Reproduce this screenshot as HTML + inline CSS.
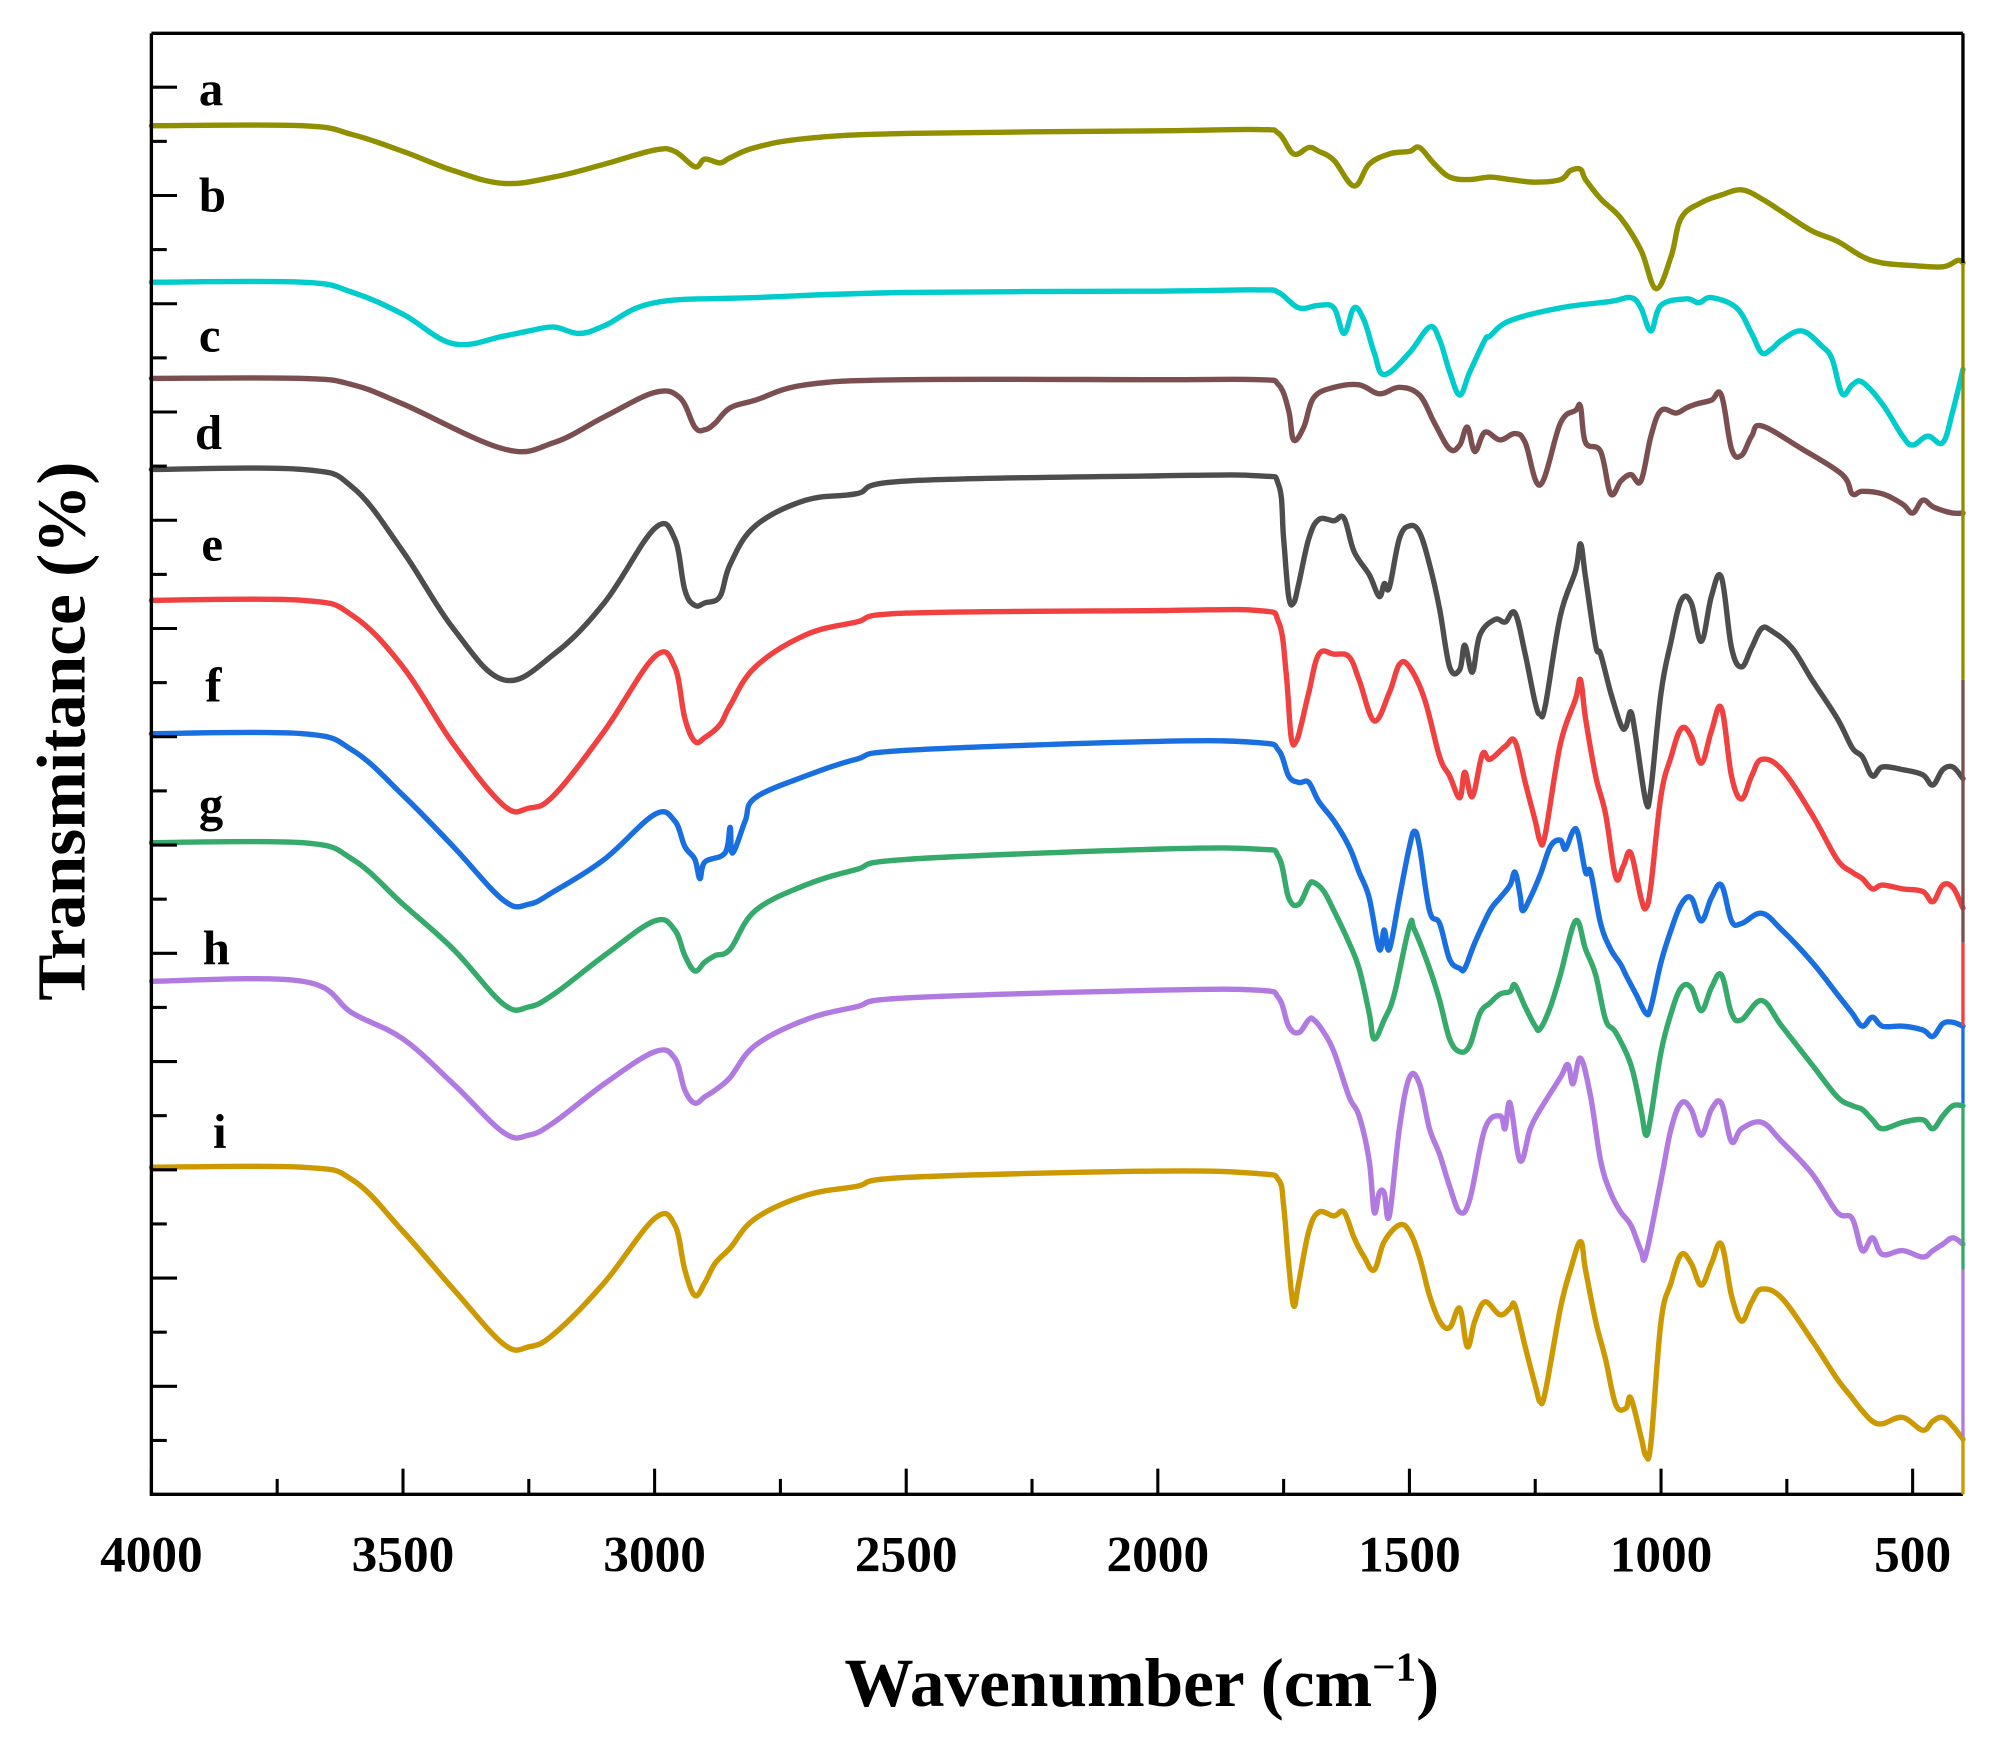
<!DOCTYPE html>
<html><head><meta charset="utf-8"><style>
html,body{margin:0;padding:0;background:#fff}
svg{display:block}
text{font-family:"Liberation Serif",serif;font-weight:bold;fill:#000}
</style></head><body>
<svg id="chart" width="2013" height="1747" viewBox="0 0 1569 1362" preserveAspectRatio="none" xmlns="http://www.w3.org/2000/svg">
<g id="plot"></g>
<text x="890" y="1330" text-anchor="middle" font-size="54">Wavenumber (cm<tspan dy="-20" font-size="32">−1</tspan><tspan dy="20">)</tspan></text>
<text transform="translate(66,570) rotate(-90)" text-anchor="middle" font-size="54">Transmitance (%)</text>
</svg>
<script>
const xTicks = [4000,3500,3000,2500,2000,1500,1000,500];
const seriesLabels = ["a","b","c","d","e","f","g","h","i"];
const seriesColors = ["#8f8f00","#00cccc","#7b4f4f","#4d4d4d","#f04040","#1a6fe0","#35aa6a","#b07ae0","#cc9900"];
const labelPos = [[155,70],[155,153],[155,262],[152,338],[157,425],[160,535],[155,628],[158,740],[166,883]];
const wnA = [4000,3700,3600,3500,3400,3300,3200,3100,3000,2960,2920,2900,2870,2850,2800,2700,2500,2000,1800,1760,1730,1700,1680,1650,1610,1580,1540,1500,1480,1450,1420,1380,1340,1300,1250,1200,1180,1160,1150,1120,1080,1040,1010,980,960,920,880,840,800,760,700,650,600,560,500,440,410,400];
const tA = [98,98,105,118,133,143,138,128,117,118,130,124,127,123,115,108,104,102,101,104,120,115,118,125,145,128,120,118,115,128,138,140,138,140,142,140,133,132,140,155,170,195,225,200,170,158,152,148,155,165,180,188,200,205,207,208,203,205];
const wnB = [4000,3700,3600,3500,3400,3300,3250,3200,3150,3100,3000,2800,2500,2000,1800,1760,1720,1680,1650,1630,1610,1590,1570,1550,1500,1460,1440,1420,1400,1380,1350,1340,1300,1200,1100,1060,1040,1020,1000,950,925,900,850,820,800,780,760,720,680,660,640,620,600,560,520,500,470,440,420,400];
const tB = [220,220,228,245,268,262,258,255,260,254,236,232,228,227,226,228,240,238,240,260,240,250,275,292,275,255,265,290,308,290,265,262,250,240,235,232,240,258,238,233,236,232,240,260,275,272,265,258,270,280,307,300,298,315,340,347,340,345,320,288];
const wnC = [4000,3700,3600,3500,3300,3200,3100,3000,2950,2920,2900,2880,2850,2800,2700,2500,2000,1800,1760,1740,1730,1710,1690,1650,1600,1560,1520,1480,1450,1420,1400,1385,1370,1350,1320,1290,1270,1240,1200,1170,1160,1150,1120,1100,1080,1060,1040,1020,1000,970,950,930,900,880,860,840,820,800,720,640,620,600,560,520,500,480,460,440,420,400];
const tC = [295,295,300,315,350,345,325,306,310,333,335,330,318,312,300,296,296,296,300,320,343,333,310,302,300,307,302,308,330,350,347,333,352,337,343,338,345,378,330,320,317,345,352,385,375,370,375,340,320,322,318,315,312,308,350,355,340,332,350,370,385,383,385,393,400,390,395,398,400,400];
const wnD = [4000,3700,3600,3500,3400,3300,3200,3100,3000,2960,2940,2920,2900,2870,2850,2800,2700,2600,2500,2000,1800,1760,1750,1740,1730,1720,1700,1680,1650,1630,1610,1580,1560,1550,1540,1520,1500,1480,1460,1440,1420,1400,1390,1375,1360,1330,1310,1290,1270,1250,1240,1230,1200,1170,1160,1150,1130,1120,1100,1080,1070,1060,1050,1030,1020,1000,980,960,940,920,900,880,860,840,820,800,780,740,700,650,620,600,580,560,520,480,460,440,420,400];
const tD = [366,366,380,430,490,530,510,470,412,420,460,472,470,465,440,410,390,385,375,371,371,378,420,465,470,455,420,405,406,404,430,448,465,455,458,420,410,415,440,475,520,522,503,524,495,483,485,478,510,548,557,550,480,445,424,450,503,510,540,565,567,555,575,625,615,540,500,468,470,500,465,450,505,520,505,490,492,505,530,560,583,590,605,598,600,604,612,600,598,607];
const wnE = [4000,3700,3600,3500,3400,3300,3250,3200,3100,3000,2960,2940,2920,2900,2870,2850,2800,2700,2600,2500,2000,1800,1760,1745,1735,1725,1715,1700,1680,1650,1620,1600,1570,1540,1520,1500,1470,1440,1420,1400,1390,1375,1355,1340,1310,1290,1270,1250,1240,1230,1200,1170,1160,1150,1130,1110,1090,1075,1060,1040,1030,1020,1000,980,960,940,920,900,880,860,840,820,800,760,700,650,620,600,580,560,520,480,460,440,420,400];
const tE = [468,468,480,520,580,628,630,620,570,512,520,560,578,575,565,550,520,495,485,478,476,476,485,525,575,578,565,540,510,510,512,530,562,540,518,520,545,590,605,622,602,621,588,592,582,578,610,640,656,650,580,545,530,560,605,635,684,675,665,700,708,690,620,590,568,574,595,570,552,605,623,605,592,600,635,670,680,685,693,690,693,695,703,690,692,708];
const wnF = [4000,3700,3600,3500,3400,3300,3250,3200,3100,3000,2960,2940,2920,2910,2900,2860,2850,2845,2820,2800,2700,2600,2500,2000,1800,1760,1740,1720,1700,1680,1650,1620,1600,1580,1560,1550,1540,1520,1500,1490,1480,1460,1440,1420,1400,1390,1370,1340,1320,1300,1290,1280,1275,1260,1240,1220,1200,1190,1175,1165,1150,1140,1120,1100,1080,1070,1050,1030,1020,1000,980,960,940,920,900,880,860,840,800,760,700,650,620,600,580,560,520,480,460,440,420,400];
const tF = [572,572,585,620,660,702,705,695,670,635,640,660,670,685,672,665,645,665,640,622,605,592,585,578,579,585,605,610,610,625,640,660,680,700,740,725,740,700,660,648,660,710,720,748,755,755,735,710,700,690,680,698,710,700,682,660,655,662,648,650,680,680,720,740,752,760,775,790,785,750,725,705,700,718,700,690,718,720,712,725,750,775,790,800,793,800,800,803,808,798,797,800];
const wnG = [4000,3700,3600,3500,3400,3300,3250,3200,3100,3000,2960,2940,2920,2900,2880,2850,2800,2700,2600,2500,2000,1800,1760,1740,1720,1700,1690,1670,1650,1620,1600,1580,1570,1550,1530,1500,1490,1460,1440,1420,1400,1380,1360,1340,1320,1300,1290,1270,1250,1240,1220,1200,1170,1150,1130,1110,1090,1060,1040,1030,1020,1000,980,960,940,920,900,880,860,840,800,760,700,650,620,600,580,560,520,480,460,440,420,400];
const tG = [657,657,670,705,740,783,785,775,745,718,725,745,757,750,745,740,710,690,678,670,662,662,668,700,705,690,688,695,710,735,755,790,810,795,775,722,725,755,780,810,820,815,790,782,775,773,768,785,800,802,785,760,718,740,760,795,805,830,865,885,870,820,790,770,770,788,770,760,790,795,780,800,830,855,862,865,873,880,875,873,880,870,862,862];
const wnH = [4000,3700,3600,3500,3400,3300,3250,3200,3100,3000,2960,2940,2920,2900,2880,2850,2800,2700,2600,2500,2000,1800,1760,1740,1720,1700,1690,1670,1650,1620,1600,1580,1570,1560,1550,1540,1520,1500,1480,1460,1440,1420,1400,1380,1350,1320,1310,1300,1280,1260,1240,1200,1185,1175,1160,1140,1120,1100,1080,1060,1040,1030,1000,980,960,940,920,900,880,860,840,800,760,700,650,620,600,580,560,520,480,460,440,420,400];
const tH = [765,765,790,810,845,883,885,875,845,820,825,850,860,855,850,840,815,795,785,778,772,772,778,800,805,795,795,805,820,855,870,905,945,930,930,948,880,840,845,880,900,925,945,935,880,870,880,860,905,880,865,840,830,845,825,855,905,930,945,955,975,978,920,880,860,865,885,865,860,890,880,875,890,915,945,950,975,965,978,975,980,975,970,965,970];
const wnI = [4000,3700,3600,3500,3400,3300,3250,3200,3100,3000,2960,2940,2920,2900,2880,2850,2800,2700,2600,2500,2000,1800,1760,1750,1740,1730,1720,1700,1680,1650,1630,1610,1590,1570,1550,1520,1500,1480,1460,1440,1420,1400,1385,1370,1350,1320,1300,1290,1270,1250,1240,1230,1200,1180,1160,1150,1130,1110,1090,1070,1060,1040,1030,1020,1000,980,960,940,920,900,880,860,840,820,800,760,700,650,620,600,580,560,520,480,460,440,420,400];
const tI = [910,910,920,960,1005,1048,1050,1040,1000,950,955,990,1010,1000,985,973,950,932,925,918,913,915,920,940,985,1018,1000,960,945,948,945,965,980,990,968,955,960,980,1010,1030,1035,1020,1050,1030,1015,1025,1020,1018,1050,1080,1093,1085,1020,990,968,990,1030,1060,1095,1098,1090,1120,1135,1125,1030,1000,978,985,1002,985,970,1010,1030,1015,1005,1012,1045,1075,1090,1100,1108,1110,1105,1115,1108,1105,1112,1122];
const wnSeries = [wnA,wnB,wnC,wnD,wnE,wnF,wnG,wnH,wnI];
const tSeries = [tA,tB,tC,tD,tE,tF,tG,tH,tI];

const NS = "http://www.w3.org/2000/svg";
const L = 118, R = 1530, T = 26, B = 1165;
const xDom = [4000, 400], yDom = [26, 1165];
function xS(w){ return L + (w - xDom[0]) / (xDom[1] - xDom[0]) * (R - L); }
function yS(v){ return T + (v - yDom[0]) / (yDom[1] - yDom[0]) * (B - T); }
const plot = document.getElementById('plot');
function mk(tag, attrs){ const e = document.createElementNS(NS, tag); for (const k in attrs) e.setAttribute(k, attrs[k]); plot.appendChild(e); return e; }
function smoothPath(pts){
  let d = 'M' + pts[0][0].toFixed(1) + ',' + pts[0][1].toFixed(1);
  const k = 0.18;
  for (let i = 0; i < pts.length - 1; i++) {
    const p0 = pts[Math.max(0, i - 1)], p1 = pts[i], p2 = pts[i + 1], p3 = pts[Math.min(pts.length - 1, i + 2)];
    const c1x = p1[0] + (p2[0] - p0[0]) * k, c1y = p1[1] + (p2[1] - p0[1]) * k;
    const c2x = p2[0] - (p3[0] - p1[0]) * k, c2y = p2[1] - (p3[1] - p1[1]) * k;
    d += 'C' + c1x.toFixed(1) + ',' + c1y.toFixed(1) + ' ' + c2x.toFixed(1) + ',' + c2y.toFixed(1) + ' ' + p2[0].toFixed(1) + ',' + p2[1].toFixed(1);
  }
  return d;
}

tSeries.forEach((vals, i) => {
  const wn = wnSeries[i];
  const pts = vals.map((v, j) => [xS(wn[j]), yS(v)]);
  const p = mk('path', {d: smoothPath(pts), fill: 'none', stroke: seriesColors[i], 'stroke-width': 4.2, 'stroke-linejoin': 'round', 'stroke-linecap': 'round'});
  
  
  const t = mk('text', {x: labelPos[i][0], y: labelPos[i][1] + 12, 'font-size': 38});
  t.textContent = seriesLabels[i];
  
  
});

const segs = [[26,205,'#000'],[205,530,seriesColors[0]],[530,735,seriesColors[2]],[735,800,seriesColors[4]],[800,860,seriesColors[5]],[860,990,seriesColors[6]],[990,1120,seriesColors[7]],[1120,1165,seriesColors[8]]];
const fr = mk('path', {d: `M${L},${T}H${R}M${L},${T}V${B}H${R}`, fill: 'none', stroke: '#000', 'stroke-width': 2.6});


segs.forEach((s) => {
  const ln = mk('line', {x1: R, x2: R, y1: s[0], y2: s[1], stroke: s[2], 'stroke-width': 2.6});
  
  
});

for (let w = 4000; w >= 500; w -= 250) {
  const major = w % 500 === 0;
  const tk = mk('line', {x1: xS(w), x2: xS(w), y1: B, y2: B - (major ? 20 : 12), stroke: '#000', 'stroke-width': 2.4});
  
  
}
xTicks.forEach((w) => {
  const t = mk('text', {x: xS(w), y: 1225, 'text-anchor': 'middle', 'font-size': 40});
  t.textContent = w;
  
  
});
for (let k = 0; k < 26; k++) {
  const y = 68 + k * 42.2;
  if (y > B - 5) break;
  const major = k % 2 === 0;
  const tk = mk('line', {x1: L, x2: L + (major ? 20 : 12), y1: y, y2: y, stroke: '#000', 'stroke-width': 2.4});
  
  
}
</script>
</body></html>
